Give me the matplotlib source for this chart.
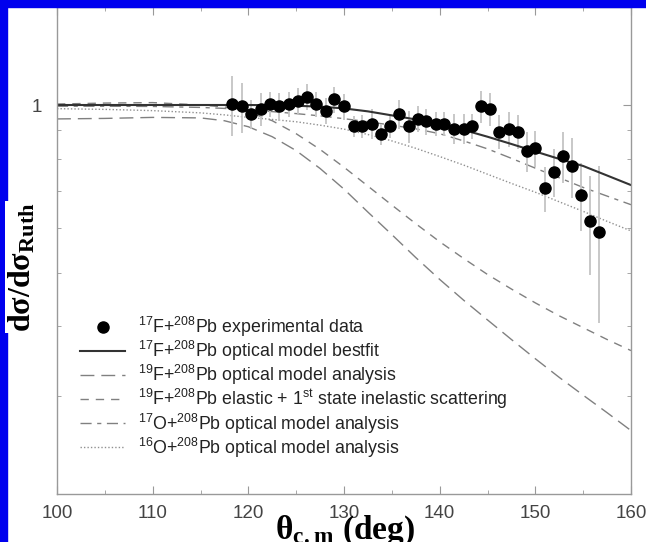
import numpy as np
import matplotlib
matplotlib.use("Agg")
import matplotlib.pyplot as plt
from matplotlib.patches import Rectangle
from matplotlib.legend_handler import HandlerLine2D

# measured 17F + 208Pb elastic scattering, ratio to Rutherford
theta_data = [118.3, 119.3, 120.3, 121.3, 122.3, 123.2, 124.2, 125.2, 126.1, 127.1,
              128.1, 129.0, 130.0, 131.0, 131.9, 132.9, 133.9, 134.8, 135.8, 136.8,
              137.7, 138.6, 139.6, 140.5, 141.5, 142.5, 143.4, 144.3, 145.3, 146.2,
              147.2, 148.2, 149.1, 150.0, 151.0, 151.9, 152.9, 153.8, 154.8, 155.7, 156.7]
ratio_data = [1.003, 0.994, 0.964, 0.983, 1.003, 0.994, 1.003, 1.017, 1.035, 1.003,
              0.976, 1.024, 0.994, 0.916, 0.916, 0.926, 0.886, 0.916, 0.964, 0.916,
              0.945, 0.935, 0.926, 0.926, 0.906, 0.906, 0.916, 0.994, 0.984, 0.896,
              0.907, 0.896, 0.827, 0.837, 0.708, 0.758, 0.809, 0.778, 0.690, 0.620, 0.591]
ratio_err = [0.125, 0.102, 0.059, 0.068, 0.053, 0.057, 0.053, 0.054, 0.055, 0.053,
             0.052, 0.055, 0.053, 0.041, 0.045, 0.057, 0.040, 0.045, 0.059, 0.060,
             0.050, 0.050, 0.047, 0.047, 0.056, 0.056, 0.047, 0.065, 0.069, 0.064,
             0.065, 0.062, 0.068, 0.062, 0.067, 0.075, 0.086, 0.096, 0.096, 0.125, 0.186]

# model calculations
theta_calc = [100, 105, 110, 115, 117.5, 120, 122.5, 125, 127.5, 130, 132.5,
              135, 137.5, 140, 142.5, 145, 147.5, 150, 152.5, 155, 157.5, 160]
f17_bestfit = [1.0, 1.0, 1.0, 1.0, 1.0, 1.0, 0.999, 0.997, 0.993, 0.986, 0.974,
               0.958, 0.942, 0.925, 0.902, 0.877, 0.851, 0.825, 0.800, 0.777, 0.747, 0.718]
f19_optical = [0.944, 0.946, 0.950, 0.948, 0.937, 0.914, 0.877, 0.828, 0.769, 0.706, 0.642,
               0.585, 0.532, 0.486, 0.446, 0.411, 0.379, 0.350, 0.324, 0.301, 0.280, 0.260]
f19_inelastic = [1.004, 1.008, 1.010, 1.000, 0.992, 0.972, 0.937, 0.888, 0.832, 0.773, 0.715,
                 0.661, 0.612, 0.568, 0.530, 0.496, 0.467, 0.441, 0.418, 0.398, 0.379, 0.362]
o17_optical = [0.995, 0.995, 0.994, 0.990, 0.986, 0.980, 0.973, 0.965, 0.956, 0.945, 0.933,
               0.920, 0.906, 0.888, 0.862, 0.834, 0.802, 0.770, 0.740, 0.711, 0.686, 0.662]
o16_optical = [0.985, 0.982, 0.977, 0.968, 0.960, 0.950, 0.942, 0.933, 0.920, 0.905, 0.885,
               0.862, 0.836, 0.808, 0.780, 0.751, 0.723, 0.697, 0.670, 0.644, 0.618, 0.594]

x_ticks = [100, 110, 120, 130, 140, 150, 160]

legend_labels = [
    "$^{17}$F+$^{208}$Pb experimental data",
    "$^{17}$F+$^{208}$Pb optical model bestfit",
    "$^{19}$F+$^{208}$Pb optical model analysis",
    "$^{19}$F+$^{208}$Pb elastic + 1$^{st}$ state inelastic scattering",
    "$^{17}$O+$^{208}$Pb optical model analysis",
    "$^{16}$O+$^{208}$Pb optical model analysis",
]

BLUE = "#0000ee"
W, H = 646, 542

plt.rcParams["font.family"] = ["Liberation Sans", "DejaVu Sans"]
plt.rcParams["mathtext.default"] = "regular"


class RightMarkerHandler(HandlerLine2D):
    # puts the legend dot at the right end of the handle
    def get_xdata(self, legend, xdescent, ydescent, width, height, fontsize):
        xdata, _ = super().get_xdata(legend, xdescent, ydescent, width, height, fontsize)
        return xdata, np.array([-xdescent + width])


fig = plt.figure(figsize=(W / 100, H / 100), dpi=100)
fig.patches.append(Rectangle((0, 1 - 7 / H), 1, 7 / H, transform=fig.transFigure,
                             color=BLUE, zorder=0))
fig.patches.append(Rectangle((0, 0), 7 / W, 1, transform=fig.transFigure,
                             color=BLUE, zorder=0))

ax = fig.add_axes([57 / W, 1 - 494 / H, (631 - 57) / W, (494 - 7) / H])

ax.errorbar(theta_data, ratio_data, yerr=ratio_err, fmt="none", ecolor="#c4c4c4",
            elinewidth=1.3, capsize=0, zorder=2)
pts, = ax.plot(theta_data, ratio_data, "o", color="black", ms=8, zorder=3)

l1, = ax.plot(theta_calc, f17_bestfit, color="#333333", lw=1.5, zorder=2)
l2, = ax.plot(theta_calc, f19_optical, color="#808080", lw=1.0, dashes=(10, 5), zorder=1)
l3, = ax.plot(theta_calc, f19_inelastic, color="#808080", lw=1.0, dashes=(6, 5), zorder=1)
l4, = ax.plot(theta_calc, o17_optical, color="#808080", lw=1.0, dashes=(8, 4, 3, 4), zorder=1)
l5, = ax.plot(theta_calc, o16_optical, color="#909090", lw=1.0, dashes=(1, 1.5), zorder=1)

ax.set_yscale("log")
ax.set_xlim(100, 160)
ax.set_ylim(0.2, 1.5)
ax.set_xticks(x_ticks)
ax.set_xticks(np.arange(105, 160, 10), minor=True)
ax.set_yticks([1])
ax.set_yticklabels(["1"])
ax.set_yticks([0.2, 0.3, 0.4, 0.5, 0.6, 0.7, 0.8, 0.9], minor=True)
ax.yaxis.set_minor_formatter(plt.NullFormatter())

ax.tick_params(which="both", direction="in", top=True, right=True, colors="#999999",
               labelcolor="#444444", labelsize=13.5)
ax.tick_params(which="major", length=6)
ax.tick_params(which="minor", length=3)
ax.tick_params(axis="x", pad=8)
ax.tick_params(axis="y", pad=11)
for s in ax.spines.values():
    s.set_color("#999999")
    s.set_linewidth(1.0)

leg = ax.legend([pts, l1, l2, l3, l4, l5], legend_labels, loc="upper left",
                bbox_to_anchor=(80 / W, 1 - 315 / H), bbox_transform=fig.transFigure,
                frameon=False, fontsize=12.8, handlelength=2.55, handletextpad=0.7,
                labelspacing=0.0, borderpad=0, borderaxespad=0, numpoints=1,
                handler_map={pts: RightMarkerHandler()})
for t in leg.get_texts():
    t.set_color("#222222")

fig.text(345 / W, 3 / H, "θ$_{c.m}$ (deg)", ha="center", va="baseline",
         family="Liberation Serif", weight="bold", fontsize=24)
fig.text(22 / W, 1 - 267 / H, "dσ/dσ$_{Ruth}$", ha="center", va="center", rotation=90,
         family="Liberation Serif", weight="bold", fontsize=23,
         bbox=dict(facecolor="white", edgecolor="none", pad=1))

fig.savefig("out.png", dpi=100)
